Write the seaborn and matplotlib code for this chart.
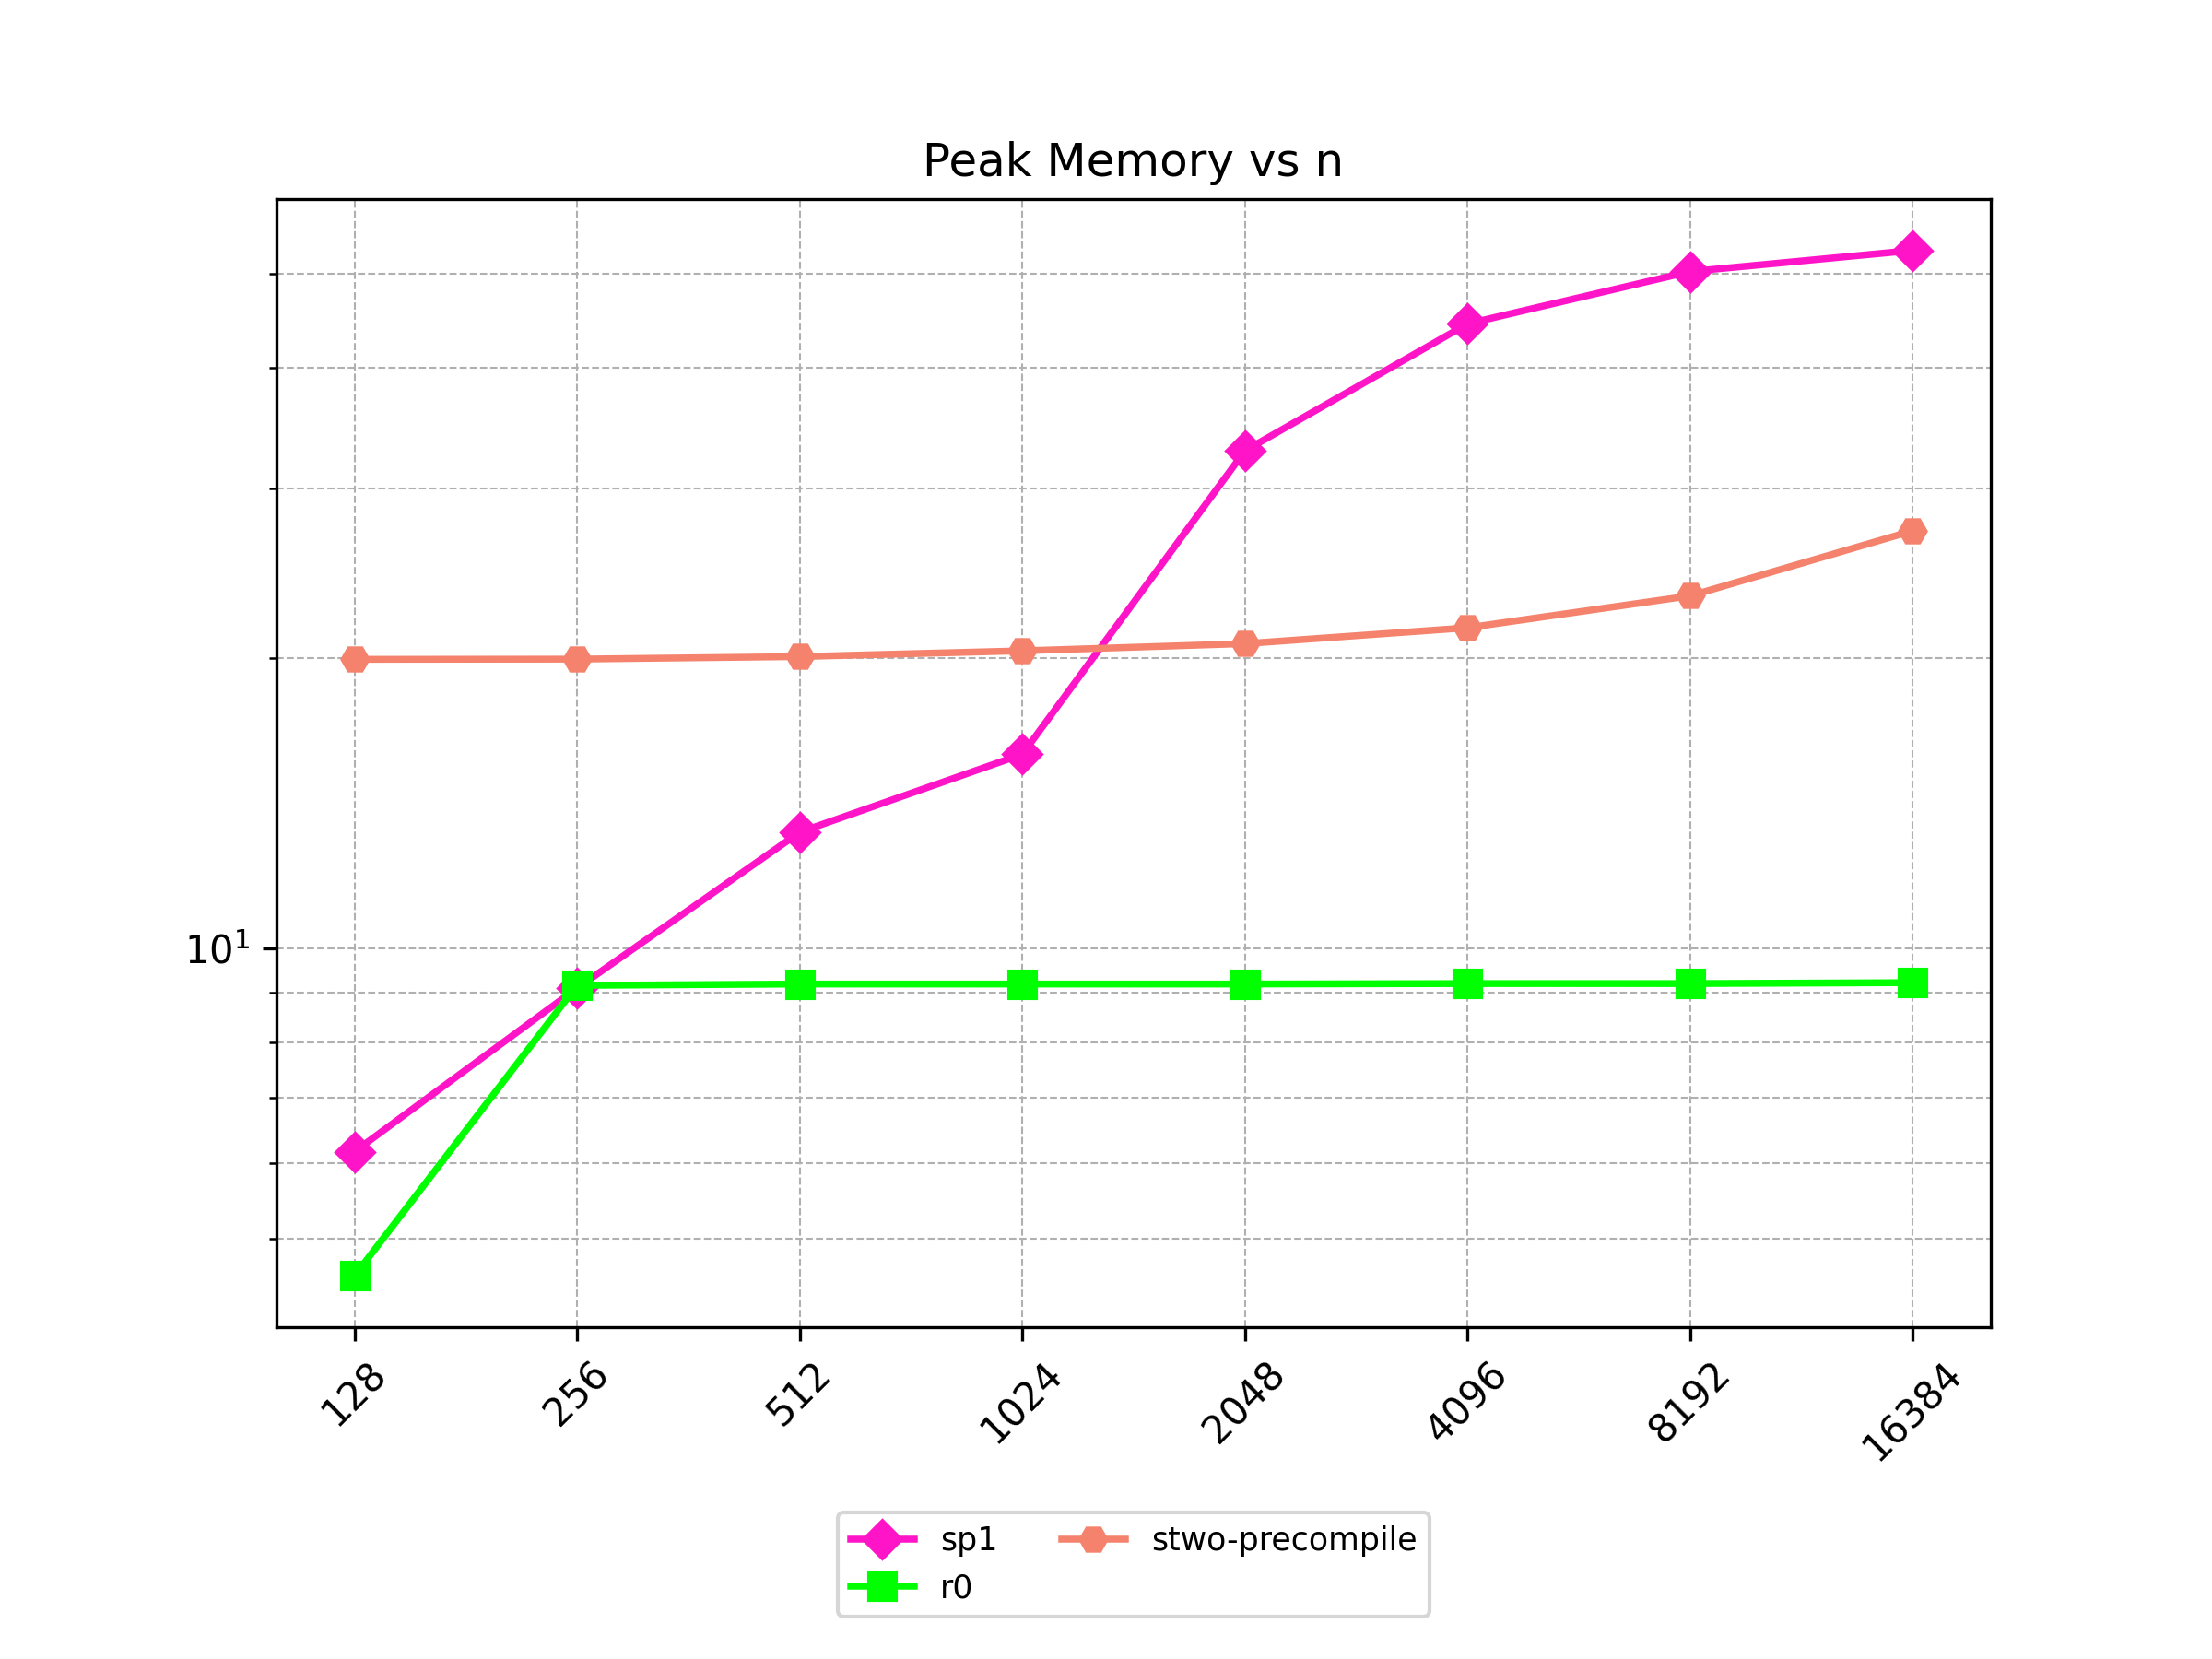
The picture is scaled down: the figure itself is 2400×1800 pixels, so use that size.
import numpy as np
import pandas as pd
import matplotlib
matplotlib.use("Agg")
import matplotlib.pyplot as plt
import seaborn as sns

n_labels = ["128", "256", "512", "1024", "2048", "4096", "8192", "16384"]

sp1 = [6.16, 9.1, 13.2, 15.9, 32.8, 44.4, 50.3, 52.9]
r0 = [4.58, 9.16, 9.19, 9.19, 9.19, 9.2, 9.2, 9.22]
stwo = [19.94, 19.95, 20.07, 20.35, 20.7, 21.5, 23.2, 27.1]

series = [
    ("sp1", sp1, "#ff14c8", "D"),
    ("r0", r0, "#00ff00", "s"),
    ("stwo-precompile", stwo, "#f4826c", "H"),
]

fig, ax = plt.subplots(figsize=(8, 6), dpi=300)
fig.subplots_adjust(bottom=0.2)

pos = np.arange(len(n_labels))
for name, vals, color, marker in series:
    df = pd.DataFrame({"x": pos, "y": vals})
    sns.lineplot(data=df, x="x", y="y", ax=ax, label=name, color=color,
                 marker=marker, markersize=7, markeredgecolor=color,
                 linewidth=1.8)

ax.set_yscale("log")
ax.set_xticks(pos)
ax.set_xticklabels(n_labels, rotation=45)
ax.set_xlabel("")
ax.set_ylabel("")
ax.set_title("Peak Memory vs n")
ax.grid(True, which="both", linestyle="--", linewidth=0.5, color="#b0b0b0")
ax.legend(loc="upper center", bbox_to_anchor=(0.5, -0.15), ncol=2, fontsize="small")

fig.savefig("out.png", dpi=300)
